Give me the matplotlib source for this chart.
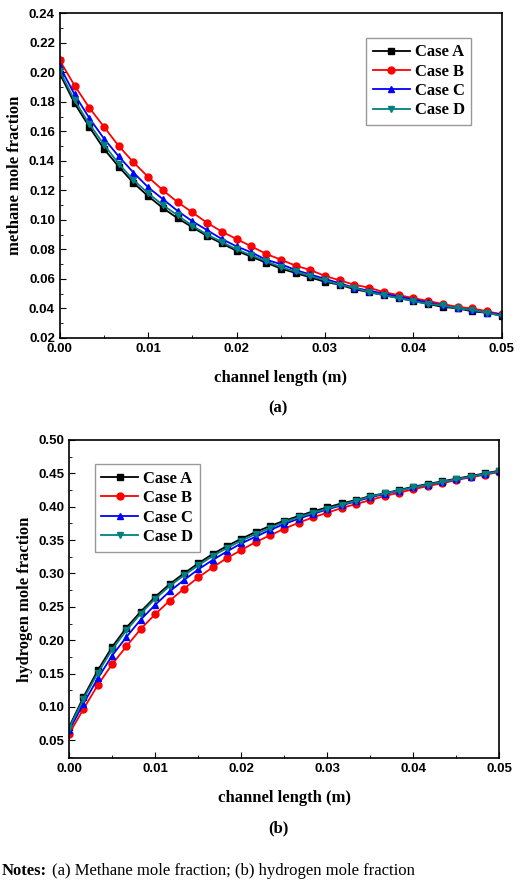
import numpy as np
import matplotlib
matplotlib.use("Agg")
import matplotlib.pyplot as plt
from matplotlib.ticker import MultipleLocator, AutoMinorLocator

x = np.linspace(0.0, 0.05, 31)

ch4_a = [0.199, 0.179, 0.163, 0.148, 0.136, 0.125, 0.116, 0.108, 0.101, 0.095, 0.089, 0.084, 0.079, 0.075, 0.071, 0.067,
         0.064, 0.061, 0.058, 0.056, 0.053, 0.051, 0.049, 0.047, 0.045, 0.043, 0.041, 0.040, 0.038, 0.037, 0.035]
ch4_b = [0.208, 0.191, 0.176, 0.163, 0.150, 0.139, 0.129, 0.120, 0.112, 0.105, 0.098, 0.092, 0.087, 0.082, 0.077, 0.073,
         0.069, 0.066, 0.062, 0.059, 0.056, 0.054, 0.051, 0.049, 0.047, 0.045, 0.043, 0.041, 0.040, 0.038, 0.036]
ch4_c = [0.204, 0.185, 0.169, 0.155, 0.143, 0.132, 0.122, 0.114, 0.106, 0.099, 0.093, 0.087, 0.082, 0.078, 0.073, 0.070,
         0.066, 0.063, 0.060, 0.057, 0.054, 0.052, 0.050, 0.048, 0.046, 0.044, 0.042, 0.040, 0.039, 0.037, 0.036]
ch4_d = [0.201, 0.181, 0.165, 0.151, 0.138, 0.127, 0.118, 0.110, 0.103, 0.096, 0.090, 0.085, 0.080, 0.076, 0.072, 0.068,
         0.065, 0.062, 0.059, 0.056, 0.054, 0.051, 0.049, 0.047, 0.045, 0.043, 0.042, 0.040, 0.039, 0.037, 0.035]

h2_a = [0.070, 0.115, 0.155, 0.190, 0.219, 0.243, 0.265, 0.284, 0.300, 0.315, 0.329, 0.341, 0.352, 0.362, 0.371, 0.379,
        0.386, 0.393, 0.399, 0.405, 0.410, 0.416, 0.420, 0.425, 0.430, 0.434, 0.438, 0.442, 0.446, 0.450, 0.454]
h2_b = [0.060, 0.097, 0.133, 0.164, 0.191, 0.217, 0.239, 0.259, 0.277, 0.294, 0.309, 0.323, 0.335, 0.347, 0.357, 0.367,
        0.376, 0.384, 0.391, 0.398, 0.404, 0.410, 0.416, 0.421, 0.426, 0.431, 0.435, 0.440, 0.444, 0.448, 0.452]
h2_c = [0.065, 0.105, 0.143, 0.177, 0.205, 0.231, 0.253, 0.273, 0.290, 0.306, 0.320, 0.333, 0.345, 0.355, 0.365, 0.374,
        0.382, 0.389, 0.396, 0.402, 0.408, 0.414, 0.419, 0.424, 0.429, 0.433, 0.437, 0.441, 0.445, 0.449, 0.453]
h2_d = [0.068, 0.112, 0.151, 0.186, 0.215, 0.240, 0.262, 0.281, 0.297, 0.312, 0.326, 0.338, 0.349, 0.359, 0.368, 0.377,
        0.384, 0.391, 0.397, 0.403, 0.409, 0.415, 0.420, 0.424, 0.429, 0.433, 0.437, 0.441, 0.445, 0.449, 0.453]

labels = ["Case A", "Case B", "Case C", "Case D"]
colors = ["black", "#ff0000", "#0000ff", "#008080"]
markers = ["s", "o", "^", "v"]

SERIF = "Liberation Serif"
SANS = "Liberation Sans"

fig = plt.figure(figsize=(5.2, 8.8), dpi=100)
ax1 = fig.add_axes([0.115, 0.616, 0.85, 0.369])
ax2 = fig.add_axes([0.133, 0.139, 0.827, 0.361])


def draw(ax, series, ylabel, ylim, major, legend_loc, bbox):
    for ys, lab, c, m in zip(series, labels, colors, markers):
        ax.plot(x, ys, color=c, marker=m, markersize=5, linewidth=1.3, label=lab)
    ax.set_xlim(0, 0.05)
    ax.set_ylim(*ylim)
    ax.xaxis.set_major_locator(MultipleLocator(0.01))
    ax.yaxis.set_major_locator(MultipleLocator(major))
    ax.xaxis.set_minor_locator(AutoMinorLocator(2))
    ax.yaxis.set_minor_locator(AutoMinorLocator(2))
    ax.tick_params(which="both", direction="in", top=False, right=False)
    ax.tick_params(which="major", length=4)
    ax.tick_params(which="minor", length=2)
    for t in ax.get_xticklabels() + ax.get_yticklabels():
        t.set_fontfamily(SANS)
        t.set_fontweight("bold")
        t.set_fontsize(9.5)
    for s in ax.spines.values():
        s.set_linewidth(1.2)
    ax.set_xlabel("channel length (m)", family=SERIF, fontweight="bold", fontsize=12, labelpad=11)
    ax.set_ylabel(ylabel, family=SERIF, fontweight="bold", fontsize=12)
    leg = ax.legend(loc=legend_loc, bbox_to_anchor=bbox, prop={"family": SERIF, "weight": "bold", "size": 12},
                    fancybox=False, edgecolor="gray", handlelength=2.2, handletextpad=0.3,
                    labelspacing=0.2, borderpad=0.4)
    leg.get_frame().set_linewidth(1.0)


draw(ax1, [ch4_a, ch4_b, ch4_c, ch4_d], "methane mole fraction", (0.02, 0.24), 0.02, "upper right", (0.95, 0.95))
draw(ax2, [h2_a, h2_b, h2_c, h2_d], "hydrogen mole fraction", (0.024, 0.50), 0.05, "upper left", (0.04, 0.95))

fig.text(0.535, 1 - 408 / 880, "(a)", family=SERIF, fontweight="bold", fontsize=12, ha="center", va="center")
fig.text(0.535, 1 - 828 / 880, "(b)", family=SERIF, fontweight="bold", fontsize=12, ha="center", va="center")
fig.text(0.003, 1 - 871 / 880, "Notes:", family=SERIF, fontweight="bold", fontsize=12, ha="left", va="center")
fig.text(0.1, 1 - 871 / 880, "(a) Methane mole fraction; (b) hydrogen mole fraction", family=SERIF,
         fontsize=12, ha="left", va="center")

fig.savefig("out.png", dpi=100)
